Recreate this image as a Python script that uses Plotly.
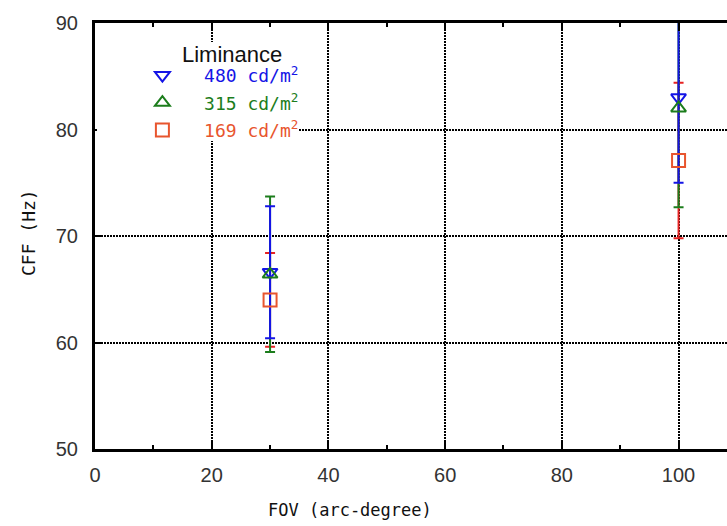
import plotly.graph_objects as go

# Field of view (arc-degree) at which CFF was measured
fov = [30, 100]

# Critical flicker frequency (Hz) and symmetric error for each luminance
cff_480 = [66.6, 83.0]
err_480 = [6.2, 8.0]
cff_315 = [66.4, 82.0]
err_315 = [7.3, 9.3]
cff_169 = [64.0, 77.1]
err_169 = [4.4, 7.3]

labels = ["480", "315", "169"]

blue = "#1414e6"
green = "#1c7d1c"
orange = "#e8552e"
red = "#e62222"

mono = "DejaVu Sans Mono"
sans = "Liberation Sans"

# plot-area pixel geometry used for paper-coordinate placement
L, T, W, H = 95, 23, 632, 426


def px(xp):
    return (xp - L) / W


def py(yp):
    return (T + H - yp) / H


fig = go.Figure()

# error bars first (red, green, blue so blue sits on top)
for y, e, c in [(cff_169, err_169, red), (cff_315, err_315, green), (cff_480, err_480, blue)]:
    fig.add_trace(go.Scatter(
        x=fov, y=y, mode="markers",
        marker=dict(size=1, color="rgba(0,0,0,0)"),
        error_y=dict(type="data", array=e, visible=True, color=c, thickness=2, width=5),
        showlegend=False, hoverinfo="skip",
    ))

# open markers on top of the bars
series = [
    (cff_480, labels[0], blue, "triangle-down-open", 13, "g1"),
    (cff_315, labels[1], green, "triangle-up-open", 13, "g2"),
    (cff_169, labels[2], orange, "square-open", 13, "g3"),
]
for y, lab, c, sym, sz, grp in series:
    fig.add_trace(go.Scatter(
        x=fov, y=y, mode="markers",
        marker=dict(symbol=sym, size=sz, color=c, line=dict(width=2, color=c)),
        name=f'<span style="color:{c}">&nbsp;&nbsp;{lab} cd/m<sup>2</sup></span>',
        legendgroup=grp,
    ))

axis_common = dict(
    showline=True, linecolor="black", linewidth=3,
    ticks="inside", ticklen=8, tickwidth=2, tickcolor="black",
    showgrid=True, gridcolor="black", gridwidth=2, griddash="2px,1px",
    zeroline=False,
    tickfont=dict(family=sans, size=20, color="#333333"),
)

fig.update_xaxes(
    **axis_common,
    range=[0, 108.3], dtick=20, tick0=0, mirror="ticks",
    minor=dict(dtick=10, ticks="inside", ticklen=4, tickwidth=2, tickcolor="black", showgrid=False),
    ticklabelstandoff=6,
)
fig.update_yaxes(
    **axis_common,
    range=[50, 90], dtick=10, mirror=False,
    ticklabelstandoff=10,
)

# white panel behind the legend hides the grid there
fig.add_shape(
    type="rect", xref="paper", yref="paper",
    x0=px(97), x1=px(298), y0=py(141), y1=py(42),
    fillcolor="white", line=dict(width=0), layer="above",
)

# axis titles and legend heading
fig.add_annotation(
    text="FOV (arc-degree)", xref="paper", yref="paper",
    x=px(350), y=py(510),
    xanchor="center", yanchor="middle", showarrow=False,
    font=dict(family=mono, size=17, color="#111111"),
)
fig.add_annotation(
    text="CFF (Hz)", xref="paper", yref="paper",
    x=px(28), y=py(233),
    xanchor="center", yanchor="middle", textangle=-90, showarrow=False,
    font=dict(family=mono, size=18, color="#111111"),
)
fig.add_annotation(
    text="Liminance", xref="paper", yref="paper",
    x=px(232), y=py(55),
    xanchor="center", yanchor="middle", showarrow=False,
    font=dict(family=sans, size=22, color="#111111"),
)

fig.update_layout(
    width=727, height=526,
    margin=dict(l=L, r=727 - L - W, t=T, b=526 - T - H),
    paper_bgcolor="white", plot_bgcolor="white",
    showlegend=True,
    legend=dict(
        x=0.075, y=py(57), xanchor="left", yanchor="top",
        bgcolor="rgba(0,0,0,0)", borderwidth=0,
        font=dict(family=mono, size=18),
        tracegroupgap=1,
    ),
)

fig.write_html("out.html")
